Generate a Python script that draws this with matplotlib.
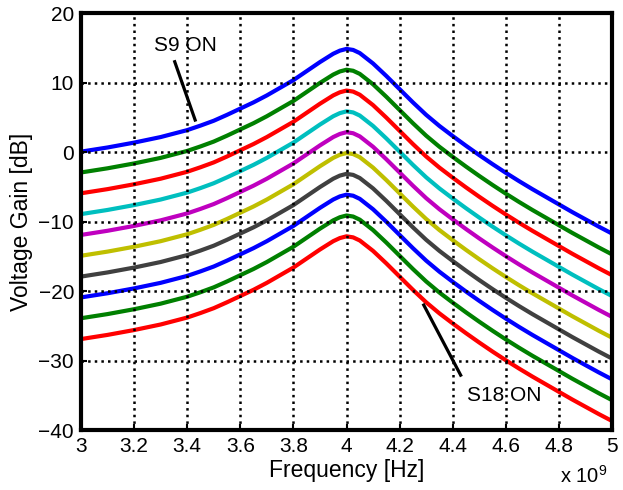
import numpy as np
import matplotlib
matplotlib.use("Agg")
import matplotlib.pyplot as plt

plt.rcParams['font.family'] = ['Liberation Sans', 'DejaVu Sans']
plt.rcParams['mathtext.fontset'] = 'custom'
plt.rcParams['mathtext.rm'] = 'Liberation Sans'

# Frequency points (x 1e9 Hz)
freq = [3.0, 3.05, 3.1, 3.15, 3.2, 3.25, 3.3, 3.35, 3.4, 3.45, 3.5, 3.55, 3.6, 3.65,
        3.7, 3.75, 3.8, 3.85, 3.9, 3.95, 3.975, 4.0, 4.025, 4.05, 4.1, 4.15, 4.2, 4.25,
        4.3, 4.35, 4.4, 4.45, 4.5, 4.55, 4.6, 4.65, 4.7, 4.75, 4.8, 4.85, 4.9, 4.95, 5.0]

# Voltage gain [dB] for each switch setting (S9 ON ... S18 ON)
gain_s9 = [0.1, 0.4, 0.7, 1.05, 1.4, 1.8, 2.2, 2.7, 3.2, 3.85, 4.55, 5.4, 6.3, 7.2,
           8.2, 9.3, 10.4, 11.7, 13.0, 14.2, 14.65, 14.9, 14.75, 14.3, 12.8, 11.0, 9.1, 7.2,
           5.4, 3.8, 2.35, 0.95, -0.4, -1.7, -2.95, -4.15, -5.3, -6.4, -7.5, -8.6, -9.65, -10.7, -11.7]
gain_s10 = [-2.9, -2.6, -2.3, -1.95, -1.6, -1.2, -0.8, -0.3, 0.2, 0.85, 1.55, 2.4, 3.3, 4.2,
            5.2, 6.3, 7.4, 8.7, 10.0, 11.2, 11.65, 11.9, 11.75, 11.3, 9.8, 8.0, 6.1, 4.2,
            2.4, 0.8, -0.65, -2.05, -3.4, -4.7, -5.95, -7.15, -8.3, -9.4, -10.5, -11.6, -12.65, -13.7, -14.7]
gain_s11 = [-5.9, -5.6, -5.3, -4.95, -4.6, -4.2, -3.8, -3.3, -2.8, -2.15, -1.45, -0.6, 0.3, 1.2,
            2.2, 3.3, 4.4, 5.7, 7.0, 8.2, 8.65, 8.9, 8.75, 8.3, 6.8, 5.0, 3.1, 1.2,
            -0.6, -2.2, -3.65, -5.05, -6.4, -7.7, -8.95, -10.15, -11.3, -12.4, -13.5, -14.6, -15.65, -16.7, -17.7]
gain_s12 = [-8.9, -8.6, -8.3, -7.95, -7.6, -7.2, -6.8, -6.3, -5.8, -5.15, -4.45, -3.6, -2.7, -1.8,
            -0.8, 0.3, 1.4, 2.7, 4.0, 5.2, 5.65, 5.9, 5.75, 5.3, 3.8, 2.0, 0.1, -1.8,
            -3.6, -5.2, -6.65, -8.05, -9.4, -10.7, -11.95, -13.15, -14.3, -15.4, -16.5, -17.6, -18.65, -19.7, -20.7]
gain_s13 = [-11.9, -11.6, -11.3, -10.95, -10.6, -10.2, -9.8, -9.3, -8.8, -8.15, -7.45, -6.6, -5.7, -4.8,
            -3.8, -2.7, -1.6, -0.3, 1.0, 2.2, 2.65, 2.9, 2.75, 2.3, 0.8, -1.0, -2.9, -4.8,
            -6.6, -8.2, -9.65, -11.05, -12.4, -13.7, -14.95, -16.15, -17.3, -18.4, -19.5, -20.6, -21.65, -22.7, -23.7]
gain_s14 = [-14.9, -14.6, -14.3, -13.95, -13.6, -13.2, -12.8, -12.3, -11.8, -11.15, -10.45, -9.6, -8.7, -7.8,
            -6.8, -5.7, -4.6, -3.3, -2.0, -0.8, -0.35, -0.1, -0.25, -0.7, -2.2, -4.0, -5.9, -7.8,
            -9.6, -11.2, -12.65, -14.05, -15.4, -16.7, -17.95, -19.15, -20.3, -21.4, -22.5, -23.6, -24.65, -25.7, -26.7]
gain_s15 = [-17.9, -17.6, -17.3, -16.95, -16.6, -16.2, -15.8, -15.3, -14.8, -14.15, -13.45, -12.6, -11.7, -10.8,
            -9.8, -8.7, -7.6, -6.3, -5.0, -3.8, -3.35, -3.1, -3.25, -3.7, -5.2, -7.0, -8.9, -10.8,
            -12.6, -14.2, -15.65, -17.05, -18.4, -19.7, -20.95, -22.15, -23.3, -24.4, -25.5, -26.6, -27.65, -28.7, -29.7]
gain_s16 = [-20.9, -20.6, -20.3, -19.95, -19.6, -19.2, -18.8, -18.3, -17.8, -17.15, -16.45, -15.6, -14.7, -13.8,
            -12.8, -11.7, -10.6, -9.3, -8.0, -6.8, -6.35, -6.1, -6.25, -6.7, -8.2, -10.0, -11.9, -13.8,
            -15.6, -17.2, -18.65, -20.05, -21.4, -22.7, -23.95, -25.15, -26.3, -27.4, -28.5, -29.6, -30.65, -31.7, -32.7]
gain_s17 = [-23.9, -23.6, -23.3, -22.95, -22.6, -22.2, -21.8, -21.3, -20.8, -20.15, -19.45, -18.6, -17.7, -16.8,
            -15.8, -14.7, -13.6, -12.3, -11.0, -9.8, -9.35, -9.1, -9.25, -9.7, -11.2, -13.0, -14.9, -16.8,
            -18.6, -20.2, -21.65, -23.05, -24.4, -25.7, -26.95, -28.15, -29.3, -30.4, -31.5, -32.6, -33.65, -34.7, -35.7]
gain_s18 = [-26.9, -26.6, -26.3, -25.95, -25.6, -25.2, -24.8, -24.3, -23.8, -23.15, -22.45, -21.6, -20.7, -19.8,
            -18.8, -17.7, -16.6, -15.3, -14.0, -12.8, -12.35, -12.1, -12.25, -12.7, -14.2, -16.0, -17.9, -19.8,
            -21.6, -23.2, -24.65, -26.05, -27.4, -28.7, -29.95, -31.15, -32.3, -33.4, -34.5, -35.6, -36.65, -37.7, -38.7]

curves = [gain_s9, gain_s10, gain_s11, gain_s12, gain_s13,
          gain_s14, gain_s15, gain_s16, gain_s17, gain_s18]
colors = [(0, 0, 1), (0, 0.5, 0), (1, 0, 0), (0, 0.75, 0.75), (0.75, 0, 0.75),
          (0.75, 0.75, 0), (0.25, 0.25, 0.25), (0, 0, 1), (0, 0.5, 0), (1, 0, 0)]

fig = plt.figure(figsize=(6.23, 4.90), dpi=100)
ax = fig.add_axes([81 / 623, 60 / 490, 531 / 623, 416.5 / 490])

for g, c in zip(curves, colors):
    ax.plot(freq, g, color=c, lw=3, solid_joinstyle='round', solid_capstyle='butt')

ax.set_xlim(3, 5)
ax.set_ylim(-40, 20)
ax.set_xticks(np.arange(3, 5.01, 0.2))
ax.set_xticklabels(['3', '3.2', '3.4', '3.6', '3.8', '4', '4.2', '4.4', '4.6', '4.8', '5'])
ax.set_yticks(np.arange(-40, 21, 10))
ax.grid(True, color='black', linestyle=':', linewidth=1.8)
ax.set_axisbelow(False)
ax.tick_params(direction='in', length=4, width=1.5, labelsize=15, pad=5)
for sp in ax.spines.values():
    sp.set_linewidth(3)

ax.set_xlabel('Frequency [Hz]', fontsize=16.5, labelpad=2)
ax.set_ylabel('Voltage Gain [dB]', fontsize=16.5, labelpad=4)
ax.text(0.992, -0.084, r'x 10$^{\mathregular{9}}$', transform=ax.transAxes,
        ha='right', va='top', fontsize=14.5)

# switch-state annotations
ax.plot([3.353, 3.430], [13.05, 4.65], color='black', lw=2.3)
ax.text(3.394, 15.46, 'S9 ON', ha='center', va='center', fontsize=15)
ax.plot([4.291, 4.430], [-22.0, -32.1], color='black', lw=2.3)
ax.text(4.596, -34.97, 'S18 ON', ha='center', va='center', fontsize=15)

fig.savefig('out.png', dpi=100)
